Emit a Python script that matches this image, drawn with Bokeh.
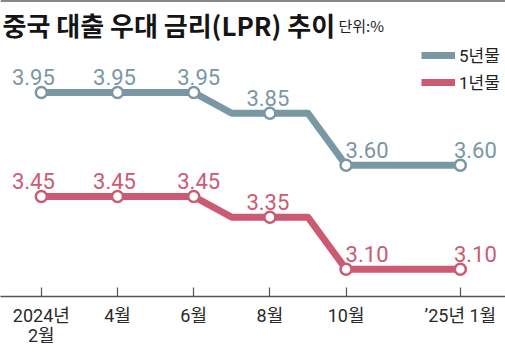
from bokeh.plotting import figure
from bokeh.models import Range1d, FixedTicker, Label, Legend, LegendItem, ColumnDataSource, Span
from bokeh.core.properties import value
from bokeh.embed import file_html
from bokeh.resources import INLINE

# ---- data ----
months = ["2024-02", "2024-03", "2024-04", "2024-05", "2024-06", "2024-07",
          "2024-08", "2024-09", "2024-10", "2024-11", "2024-12", "2025-01"]
lpr_5y = [3.95, 3.95, 3.95, 3.95, 3.95, 3.85, 3.85, 3.85, 3.60, 3.60, 3.60, 3.60]
lpr_1y = [3.45, 3.45, 3.45, 3.45, 3.45, 3.35, 3.35, 3.35, 3.10, 3.10, 3.10, 3.10]
tick_months = ["2024-02", "2024-04", "2024-06", "2024-08", "2024-10", "2025-01"]
tick_labels = ["2024년\n2월", "4월", "6월", "8월", "10월", "’25년 1월"]
series_names = ["5년물", "1년물"]

# ---- styles ----
C5 = "#7a97a4"
C1 = "#cc5a72"
KR = "Noto Sans CJK KR"
KRM = "Roboto, Noto Sans CJK KR"
NUM = "Roboto"
label_dx = [-8, -3, 5, -2, 21, 15]   # label horizontal nudges (px)

W, H = 505, 355
FRAME_H = 296
Y_TOP = 4.3923

xi = list(range(len(months)))
tick_idx = [months.index(m) for m in tick_months]

p = figure(width=W, height=H, output_backend="svg", toolbar_location=None,
           x_range=Range1d(-1.0725, 12.186), y_range=Range1d(2.9692, Y_TOP),
           min_border_left=0, min_border_right=0, min_border_top=0,
           min_border_bottom=H - FRAME_H, y_axis_location=None,
           outline_line_color=None, background_fill_color="white",
           border_fill_color="white")
p.xgrid.visible = False
p.ygrid.visible = False

ax = p.xaxis[0]
ax.ticker = FixedTicker(ticks=tick_idx)
ax.major_label_overrides = {i: t for i, t in zip(tick_idx, tick_labels)}
ax.major_tick_in = 9
ax.major_tick_out = 0
ax.minor_tick_line_color = None
ax.axis_line_color = "#555555"
ax.axis_line_width = 1.5
ax.major_tick_line_color = "#555555"
ax.major_tick_line_width = 1.2
ax.major_label_text_font = KRM
ax.major_label_text_font_size = "18px"
ax.major_label_text_color = "#2a2a2a"
ax.major_label_text_line_height = 0.98
ax.major_label_standoff = 8

# thin rule at the very top
p.add_layout(Span(location=Y_TOP, dimension="width", line_color="#111111", line_width=2))

renderers = []
for vals, col in ((lpr_5y, C5), (lpr_1y, C1)):
    r = p.line(xi, vals, line_width=7, line_color=col, line_join="round")
    renderers.append(r)
    mx = tick_idx
    my = [vals[i] for i in tick_idx]
    p.scatter(mx, my, size=11, fill_color="white", line_color=col, line_width=2.5)
    src = ColumnDataSource(dict(x=mx, y=my, t=[f"{v:.2f}" for v in my], dx=label_dx))
    p.text(x="x", y="y", text="t", x_offset="dx", y_offset=-15, source=src,
           text_align="center", text_baseline="alphabetic",
           text_font=value(NUM), text_font_size="22px", text_color=col)

legend = Legend(items=[LegendItem(label=series_names[0], renderers=[renderers[0]]),
                       LegendItem(label=series_names[1], renderers=[renderers[1]])],
                location=(421, 202), orientation="vertical",
                padding=0, margin=0, spacing=2, glyph_width=34, glyph_height=20,
                label_height=20, label_standoff=4, border_line_color=None,
                background_fill_alpha=0,
                label_text_font=KRM, label_text_font_size="17px",
                label_text_color="#222222")
p.add_layout(legend)

def fy(ref_y):
    return FRAME_H - ref_y

p.add_layout(Label(x=2, y=fy(24), x_units="screen", y_units="screen",
                   text="중국 대출 우대 금리(LPR) 추이", text_font=KR,
                   text_font_size="26px", text_font_style="bold",
                   text_color="#151515", text_baseline="middle"))
p.add_layout(Label(x=338, y=fy(25), x_units="screen", y_units="screen",
                   text="단위:%", text_font=KR, text_font_size="15px",
                   text_color="#222222", text_baseline="middle"))
p.add_layout(Label(x=503, y=fy(352), x_units="screen", y_units="screen",
                   text="자료:중국인민은행", text_font=KR, text_font_size="14px",
                   text_color="#222222", text_align="right", text_baseline="bottom"))

open("out.html", "w").write(file_html(p, INLINE))
